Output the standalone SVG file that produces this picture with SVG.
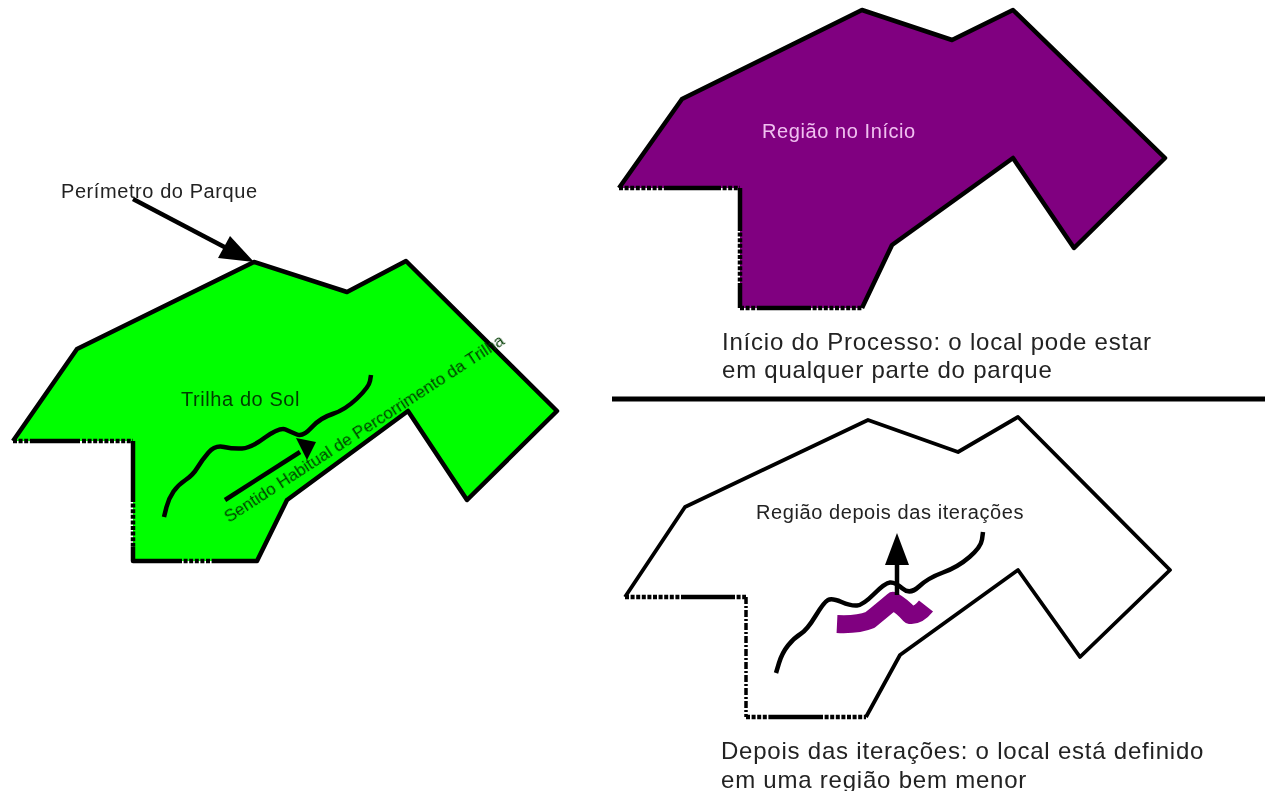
<svg xmlns="http://www.w3.org/2000/svg" width="1265" height="791" viewBox="0 0 1265 791">
<style>
text{font-family:"Liberation Sans",Arial,sans-serif;fill:#222}
.s{font-size:20px;letter-spacing:.58px}
.b{font-size:24px;letter-spacing:.78px}
.e{fill:none;stroke:#000;stroke-width:4.5;stroke-linejoin:round}
.o{fill:none;stroke:#000;stroke-width:3.8;stroke-linejoin:round}
.d{fill:none;stroke:#000;stroke-width:4.5;stroke-dasharray:4 1.6}
.t{fill:none;stroke:#000;stroke-width:4.5;stroke-linejoin:round;stroke-linecap:butt}
.a{fill:none;stroke:#000;stroke-width:4.5}
</style>
<defs>
<filter id="soft" x="-5%" y="-20%" width="110%" height="140%"><feGaussianBlur stdDeviation="0.5"/></filter>
</defs>
<g id="parque-verde">
<path d="M13 441L77 349L254 262L347 292L406 261L557 411L467 500L408 411L287 500L257 561H133V441Z" fill="#0f0" stroke="none"/>
<path class="e" d="M133 441V498M133 547V561H178M215 561H257L287 500L408 411L467 500L557 411L406 261L347 292L254 262L77 349L13 441"/>
<path class="a" d="M33 441H80"/>
<path class="d" d="M13 441H33M82 441H133M133 498V547M178 561H215"/>
<path class="t" d="M164 517L166.500 507Q169 498 173.500 491.500Q178 485 185.500 480Q193 475 197.500 467.500Q202 460 208.500 452.500Q215 445 224 447Q233 449 242 448.500Q251 448 265 437.500Q280 427 285.500 429.500Q291 432 297 434.500Q303 437 311.500 427.500Q320 418 332.500 414Q345 410 357 398.500Q369 387 370 381L371 375"/>
<text class="s" x="181" y="406" filter="url(#soft)" style="fill:#063a06">Trilha do Sol</text>
<text class="s" transform="translate(229 523) rotate(-33)" filter="url(#soft)" style="font-size:17px;letter-spacing:0;fill:#063a06">Sentido Habitual de Percorrimento da Trilha</text>
</g>
<g id="regiao-inicio">
<path d="M619 188L682 99L862 10L952 40L1013 10L1165 158L1074 248L1013 158L892 245L862 308H740V188Z" fill="#800080" stroke="none"/>
<path class="e" d="M740 188V227M740 283V308M862 308L892 245L1013 158L1074 248L1165 158L1013 10L952 40L862 10L682 99L619 188"/>
<path class="a" d="M667 188H717M757 308H807"/>
<path class="d" d="M619 188H667M717 188H740M740 227V283M740 308H757M807 308H862"/>
<text class="s" x="762" y="138" style="fill:#f0c0f0" filter="url(#soft)">Região no Início</text>
</g>
<g id="regiao-final">
<path class="o" d="M866 717L900 655L1018 570L1080 657L1170 570L1018 417L958 452L868 420L685 507L625 597"/>
<path class="d" d="M625 597H681M731 597H746M746 717H771M819 717H866"/>
<path class="a" d="M681 597H731M771 717H819"/>
<path d="M746 597V717" fill="none" stroke="#000" stroke-width="3.5" stroke-dasharray="7 2 2 2"/>
<path class="t" d="M776 673L779 663Q782 653 788 645.500Q794 638 800.500 634Q807 630 815.500 616Q824 602 828 600Q832 598 841.500 602Q851 606 857 605.500Q863 605 874 594Q885 583 890 582.500Q895 582 902.500 588.500Q910 595 919 586.500Q928 578 943 572.500Q958 567 969.500 557Q981 547 982 539.500L983 532"/>
<path d="M837 624Q858 625 870 620Q880 612 893 601Q902 606 910 615Q918 616 926 606" fill="none" stroke="#800080" stroke-width="18" stroke-linejoin="round" stroke-linecap="butt"/>
<path class="a" d="M897 595V560"/>
<polygon points="897,533 909,565 885,565"/>
<text class="s" x="756" y="519" filter="url(#soft)">Região depois das iterações</text>
</g>
<g id="connectors">
<path class="a" d="M133 199L232 251"/>
<polygon points="254,262 218,258 230,236"/>
<path class="a" d="M225 500L300 452"/>
<polygon points="316,442 296,438 307,460"/>
<line x1="612" y1="399" x2="1265" y2="399" stroke="#000" stroke-width="5"/>
</g>
<g id="legendas" filter="url(#soft)">
<text class="s" x="61" y="198">Perímetro do Parque</text>
<text class="b" x="722" y="350">Início do Processo: o local pode estar</text>
<text class="b" x="722" y="378">em qualquer parte do parque</text>
<text class="b" x="721" y="759">Depois das iterações: o local está definido</text>
<text class="b" x="721" y="788">em uma região bem menor</text>
</g>
</svg>
